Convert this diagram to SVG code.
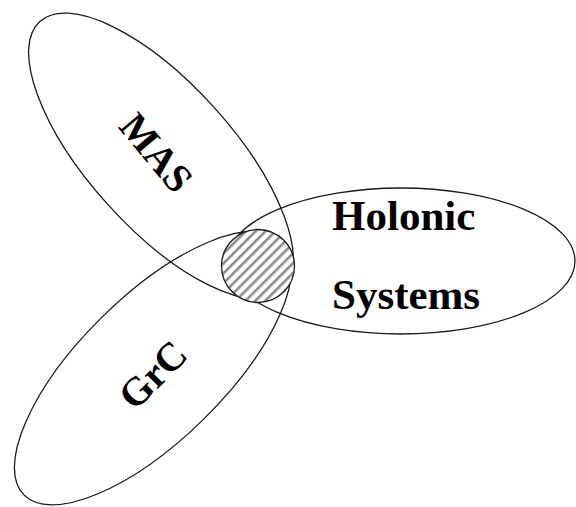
<svg xmlns="http://www.w3.org/2000/svg" width="576" height="507" viewBox="0 0 576 507">
  <style>
    .set { fill: none; stroke: #1a1a1a; stroke-width: 1.3; }
    .lbl { font-family: "Liberation Serif", "Times New Roman", serif; font-weight: bold; font-size: 40px; fill: #000; }
    .big { font-size: 43px; }
  </style>
  <defs>
    <pattern id="hatch" patternUnits="userSpaceOnUse" width="7" height="7" patternTransform="rotate(45)">
      <rect x="0" y="0" width="7" height="7" fill="#fff"/>
      <rect x="0" y="0" width="2.6" height="7" fill="#8c8c8c"/>
    </pattern>
  </defs>
  <rect width="576" height="507" fill="#fff"/>

  <g id="mas">
    <ellipse class="set" cx="161" cy="156" rx="181" ry="72" transform="rotate(48 161 156)"/>
    <text class="lbl" text-anchor="middle" transform="translate(156 153) rotate(50)" y="13">MAS</text>
  </g>

  <g id="grc">
    <ellipse class="set" cx="153" cy="368" rx="181" ry="72" transform="rotate(-44.5 153 368)"/>
    <text class="lbl" text-anchor="middle" transform="translate(153 375) rotate(-45)" y="13">GrC</text>
  </g>

  <g id="holonic">
    <ellipse class="set" cx="401" cy="261" rx="174" ry="73"/>
    <text class="lbl big" x="332" y="230">Holonic</text>
    <text class="lbl big" x="332" y="309">Systems</text>
  </g>

  <g id="intersection">
    <circle cx="258" cy="266" r="36.5" fill="url(#hatch)" stroke="#1a1a1a" stroke-width="1.3"/>
  </g>

  <g id="connectors"></g>
</svg>
